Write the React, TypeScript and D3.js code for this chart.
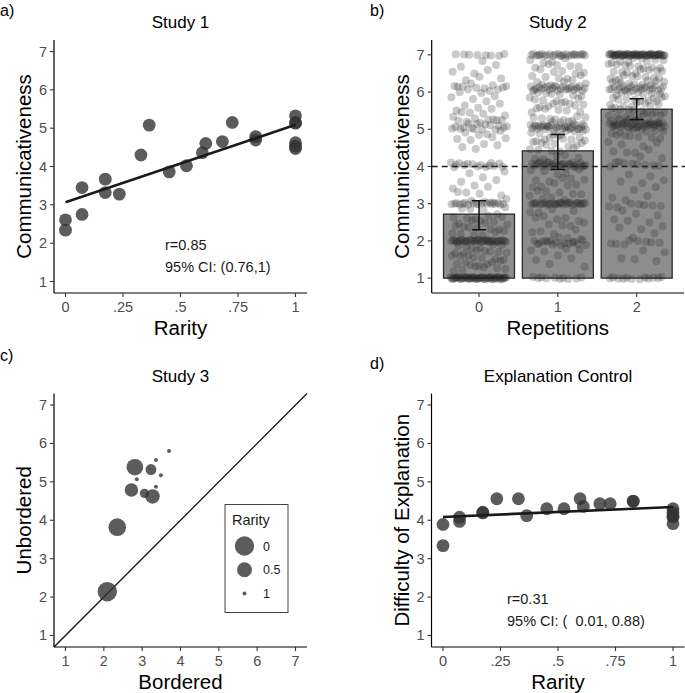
import React from 'react';
import * as d3 from 'd3';

// ---------- Data ----------
// Study 1
const rarityS1 = [0, 0, 0.072, 0.072, 0.173, 0.173, 0.234, 0.328, 0.364, 0.451, 0.526, 0.595, 0.61, 0.682, 0.725, 0.827, 0.827, 1, 1, 1, 1, 1, 1];
const commS1 = [2.61, 2.34, 3.45, 2.75, 3.67, 3.32, 3.28, 4.3, 5.08, 3.86, 4.02, 4.36, 4.6, 4.65, 5.15, 4.78, 4.69, 5.32, 5.15, 5.13, 4.62, 4.53, 4.47];
const s1Stats = ['r=0.85', '95% CI: (0.76,1)'];

// Study 2
const s2Groups = ['0', '1', '2'];
const s2Means = [2.72, 4.42, 5.54];
const s2Lower = [2.3, 3.92, 5.26];
const s2Upper = [3.08, 4.86, 5.82];
// [rating, number of responses]
const s2Rep0: [number, number][] = [
  [7, 8], [6.9, 1], [6.7, 2], [6.55, 3], [6.35, 3], [6.2, 4], [6.1, 8], [6.0, 2], [5.85, 3], [5.7, 3],
  [5.55, 3], [5.4, 4], [5.3, 4], [5.2, 5], [5.1, 10], [5.0, 5], [4.9, 4], [4.75, 4], [4.55, 3], [4.4, 1],
  [4.05, 15], [3.85, 2], [3.65, 3], [3.45, 3], [3.25, 4], [3.1, 4], [3.0, 18], [2.85, 4], [2.65, 6], [2.5, 6],
  [2.35, 6], [2.2, 6], [2.0, 35], [1.85, 6], [1.7, 7], [1.55, 7], [1.4, 7], [1.25, 6], [1.0, 55],
];
const s2Rep1: [number, number][] = [
  [7, 25], [6.85, 4], [6.7, 5], [6.55, 5], [6.4, 5], [6.25, 6], [6.1, 25], [5.95, 6], [5.8, 6], [5.65, 7],
  [5.5, 6], [5.3, 8], [5.15, 8], [5.05, 28], [4.9, 7], [4.75, 8], [4.6, 7], [4.45, 5], [4.25, 5], [4.05, 28],
  [3.85, 5], [3.65, 5], [3.5, 5], [3.3, 5], [3.15, 4], [3.0, 28], [2.8, 4], [2.6, 5], [2.45, 4], [2.25, 4],
  [2.05, 4], [1.95, 16], [1.75, 4], [1.55, 3], [1.35, 2], [1.0, 10],
];
const s2Rep2: [number, number][] = [
  [7, 60], [6.85, 8], [6.7, 8], [6.55, 8], [6.4, 8], [6.25, 10], [6.1, 22], [5.95, 8], [5.8, 9], [5.65, 8],
  [5.5, 8], [5.35, 8], [5.2, 14], [5.1, 26], [4.95, 7], [4.8, 6], [4.6, 4], [4.4, 4], [4.2, 3], [4.05, 8],
  [3.8, 2], [3.6, 3], [3.4, 2], [3.15, 3], [2.95, 7], [2.75, 3], [2.55, 3], [2.35, 3], [2.15, 2], [1.95, 8],
  [1.75, 2], [1.5, 3], [1.0, 12],
];

// Study 3
const borderedS3 = [2.09, 2.35, 2.81, 2.72, 3.23, 3.06, 3.27, 2.86, 3.36, 3.49, 3.36, 3.7];
const unborderedS3 = [2.14, 3.82, 5.38, 4.79, 5.32, 4.7, 4.62, 5.07, 5.57, 5.17, 4.87, 5.8];
const rarityS3 = [0, 0.22, 0.33, 0.62, 0.8, 0.88, 0.54, 1, 1, 1, 1, 1];
const legendRarity = [0, 0.5, 1];
const legendLabels = ['0', '0.5', '1'];

// Explanation control
const rarityEC = [0, 0, 0.072, 0.072, 0.173, 0.173, 0.234, 0.328, 0.364, 0.451, 0.526, 0.596, 0.61, 0.682, 0.727, 0.827, 0.827, 1, 1, 1, 1, 1];
const diffEC = [3.89, 3.34, 3.97, 4.08, 4.21, 4.19, 4.56, 4.56, 4.12, 4.3, 4.3, 4.56, 4.36, 4.43, 4.43, 4.5, 4.49, 4.3, 4.2, 4.12, 4.08, 3.91];
const ecStats = ['r=0.31', '95% CI: (  0.01, 0.88)'];

// Ticks
const ratingTicks = [1, 2, 3, 4, 5, 6, 7];
const rarityTicks = [0, 0.25, 0.5, 0.75, 1];
const rarityTickLabels = ['0', '.25', '.5', '.75', '1'];

// ---------- Helpers ----------
const FONT = '"Liberation Sans", Arial, Helvetica, sans-serif';
const TICK_COLOR = '#4d4d4d';

function fit(xs: number[], ys: number[]) {
  const mx = d3.mean(xs)!;
  const my = d3.mean(ys)!;
  let sxy = 0, sxx = 0;
  xs.forEach((x, i) => { sxy += (x - mx) * (ys[i] - my); sxx += (x - mx) * (x - mx); });
  const b = sxy / sxx;
  return { a: my - b * mx, b };
}

// van der Corput radical inverse (deterministic, used only for display jitter)
function radicalInverse(n: number, base: number) {
  let inv = 1 / base, f = inv, r = 0;
  while (n > 0) { r += (n % base) * f; n = Math.floor(n / base); f *= inv; }
  return r;
}

type Lin = d3.ScaleLinear<number, number>;

function YAxis({ x, y, ticks }: { x: Lin; y: Lin; ticks: number[] }) {
  const x0 = x.range()[0];
  const [yb, yt] = y.range();
  return (
    <g>
      <line x1={x0} x2={x0} y1={yt} y2={yb} stroke="#000" strokeWidth={1.2} />
      {ticks.map((t) => (
        <g key={t}>
          <line x1={x0 - 4} x2={x0} y1={y(t)} y2={y(t)} stroke="#333" strokeWidth={1.1} />
          <text x={x0 - 7} y={y(t) + 5} textAnchor="end" fontSize={14.5} fill={TICK_COLOR} fontFamily={FONT}>{t}</text>
        </g>
      ))}
    </g>
  );
}

function XAxis({ x, y, ticks, labels }: { x: Lin; y: Lin; ticks: number[]; labels: string[] }) {
  const y0 = y.range()[0];
  const [xl, xr] = x.range();
  return (
    <g>
      <line x1={xl} x2={xr} y1={y0} y2={y0} stroke="#000" strokeWidth={1.2} />
      {ticks.map((t, i) => (
        <g key={t}>
          <line x1={x(t)} x2={x(t)} y1={y0} y2={y0 + 4} stroke="#333" strokeWidth={1.1} />
          <text x={x(t)} y={y0 + 19} textAnchor="middle" fontSize={14.5} fill={TICK_COLOR} fontFamily={FONT}>{labels[i]}</text>
        </g>
      ))}
    </g>
  );
}

function Titles({ x, y, title, xTitle, yTitle, tag, tagX, tagY }: any) {
  const [xl, xr] = x.range();
  const [yb, yt] = y.range();
  const cx = (xl + xr) / 2;
  const cy = (yb + yt) / 2;
  return (
    <g fontFamily={FONT}>
      <text x={tagX} y={tagY} fontSize={16} fill="#000">{tag}</text>
      <text x={cx} y={yt - 12} textAnchor="middle" fontSize={17} fill="#000">{title}</text>
      <text x={cx} y={yb + 42} textAnchor="middle" fontSize={20.5} fill="#000">{xTitle}</text>
      <text transform={`translate(${xl - 23},${cy}) rotate(-90)`} textAnchor="middle" fontSize={20.5} fill="#000">{yTitle}</text>
    </g>
  );
}

function ScatterFit({ x, y, xs, ys, stats, statX, statY }: any) {
  const f = fit(xs, ys);
  const line = d3.line<number>().x((d) => x(d)).y((d) => y(f.a + f.b * d));
  return (
    <g>
      {xs.map((v: number, i: number) => (
        <circle key={i} cx={x(v)} cy={y(ys[i])} r={6.4} fill="#333" fillOpacity={0.8} />
      ))}
      <path d={line([0, 1]) || ''} stroke="#1a1a1a" strokeWidth={2.6} fill="none" />
      {stats.map((s: string, i: number) => (
        <text key={i} x={statX} y={statY + i * 22} fontSize={14.5} fill="#1a1a1a" fontFamily={FONT} style={{ whiteSpace: 'pre' }}>{s}</text>
      ))}
    </g>
  );
}

// ---------- Panels ----------
function PanelA() {
  const x = d3.scaleLinear().domain([-0.05, 1.05]).range([54, 307]);
  const y = d3.scaleLinear().domain([0.7, 7.3]).range([293, 40]);
  return (
    <g>
      <Titles x={x} y={y} title="Study 1" xTitle="Rarity" yTitle="Communicativeness" tag="a)" tagX={0} tagY={16} />
      <ScatterFit x={x} y={y} xs={rarityS1} ys={commS1} stats={s1Stats} statX={165} statY={250} />
      <YAxis x={x} y={y} ticks={ratingTicks} />
      <XAxis x={x} y={y} ticks={rarityTicks} labels={rarityTickLabels} />
    </g>
  );
}

function PanelB() {
  const x = d3.scaleLinear().domain([-0.6, 2.6]).range([431.7, 684]);
  const y = d3.scaleLinear().domain([0.6, 7.4]).range([293, 40]);
  const groups = [s2Rep0, s2Rep1, s2Rep2];
  const dots: { cx: number; cy: number }[] = [];
  groups.forEach((g, gi) => {
    let k = gi * 7;
    g.forEach(([val, n]) => {
      const spread = Number.isInteger(val) ? 0.06 : 0.14;
      for (let j = 0; j < n; j++) {
        k++;
        const jx = (((k * 0.6180339887) % 1) - 0.5) * 0.72;
        const jy = (radicalInverse(k, 3) - 0.5) * spread;
        dots.push({ cx: x(gi + jx), cy: y(val + jy) });
      }
    });
  });
  const half = 0.45;
  const cap = 0.09;
  return (
    <g>
      <Titles x={x} y={y} title="Study 2" xTitle="Repetitions" yTitle="Communicativeness" tag="b)" tagX={370} tagY={16} />
      {s2Means.map((m, i) => (
        <rect key={i} x={x(i - half)} width={x(i + half) - x(i - half)} y={y(m)} height={y(1) - y(m)}
          fill="#8d8d8d" stroke="#2b2b2b" strokeWidth={1.3} />
      ))}
      {dots.map((d, i) => (
        <circle key={i} cx={d.cx} cy={d.cy} r={4} fill="#222" fillOpacity={0.24} />
      ))}
      <line x1={x.range()[0]} x2={685} y1={y(4)} y2={y(4)} stroke="#222" strokeWidth={1.3} strokeDasharray="6,4" />
      {s2Means.map((m, i) => (
        <g key={i} stroke="#111" strokeWidth={1.5}>
          <line x1={x(i)} x2={x(i)} y1={y(s2Lower[i])} y2={y(s2Upper[i])} />
          <line x1={x(i - cap)} x2={x(i + cap)} y1={y(s2Lower[i])} y2={y(s2Lower[i])} />
          <line x1={x(i - cap)} x2={x(i + cap)} y1={y(s2Upper[i])} y2={y(s2Upper[i])} />
        </g>
      ))}
      <YAxis x={x} y={y} ticks={ratingTicks} />
      <XAxis x={x} y={y} ticks={[0, 1, 2]} labels={s2Groups} />
    </g>
  );
}

function PanelC() {
  const x = d3.scaleLinear().domain([0.7, 7.3]).range([54, 307]);
  const y = d3.scaleLinear().domain([0.7, 7.3]).range([647, 393.5]);
  const r = d3.scaleSqrt().domain([0, 1]).range([2, 9.7]);
  return (
    <g>
      <Titles x={x} y={y} title="Study 3" xTitle="Bordered" yTitle="Unbordered" tag="c)" tagX={0} tagY={361} />
      <line x1={x(0.7)} y1={y(0.7)} x2={x(7.3)} y2={y(7.3)} stroke="#111" strokeWidth={1.3} />
      {borderedS3.map((b, i) => (
        <circle key={i} cx={x(b)} cy={y(unborderedS3[i])} r={r(1 - rarityS3[i])} fill="#333" fillOpacity={0.8} />
      ))}
      <g fontFamily={FONT}>
        <rect x={225} y={504.5} width={63} height={108} fill="#fff" stroke="#444" strokeWidth={1} />
        <text x={232} y={525} fontSize={14.5} fill="#1a1a1a">Rarity</text>
        {legendRarity.map((v, i) => (
          <g key={i}>
            <circle cx={244.5} cy={546 + i * 23.8} r={r(1 - v)} fill="#333" fillOpacity={0.8} />
            <text x={263} y={546 + i * 23.8 + 4.5} fontSize={12.5} fill="#1a1a1a">{legendLabels[i]}</text>
          </g>
        ))}
      </g>
      <YAxis x={x} y={y} ticks={ratingTicks} />
      <XAxis x={x} y={y} ticks={ratingTicks} labels={ratingTicks.map(String)} />
    </g>
  );
}

function PanelD() {
  const x = d3.scaleLinear().domain([-0.05, 1.05]).range([431.5, 684.5]);
  const y = d3.scaleLinear().domain([0.7, 7.3]).range([647, 393.5]);
  return (
    <g>
      <Titles x={x} y={y} title="Explanation Control" xTitle="Rarity" yTitle="Difficulty of Explanation" tag="d)" tagX={370} tagY={369} />
      <ScatterFit x={x} y={y} xs={rarityEC} ys={diffEC} stats={ecStats} statX={507} statY={603.5} />
      <YAxis x={x} y={y} ticks={ratingTicks} />
      <XAxis x={x} y={y} ticks={rarityTicks} labels={rarityTickLabels} />
    </g>
  );
}

export default function App() {
  return (
    <svg width={685} height={693} style={{ position: 'absolute', left: 0, top: 0, background: '#fff' }}>
      <rect width={685} height={693} fill="#fff" />
      <PanelA />
      <PanelB />
      <PanelC />
      <PanelD />
    </svg>
  );
}
